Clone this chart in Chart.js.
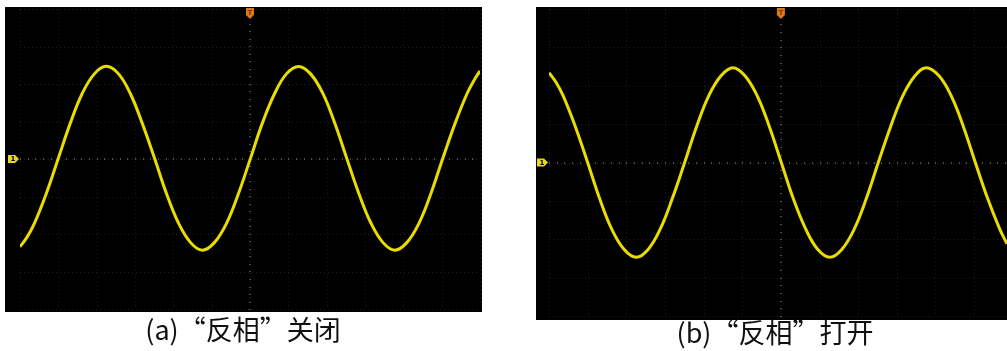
<!DOCTYPE html>
<html>
<head>
<meta charset="utf-8">
<script src="https://cdn.jsdelivr.net/npm/chart.js@4/dist/chart.umd.min.js"></script>
<style>
  html, body { margin: 0; padding: 0; background: #fff; width: 1007px; height: 351px; overflow: hidden; position: relative; }
  .panel { position: absolute; background: #000; }
  .panel canvas { display: block; }
  #pa { left: 5px; top: 7px; width: 477px; height: 305px; }
  #pb { left: 536px; top: 7px; width: 471px; height: 313px; }
  .cap { position: absolute; font-family: "Noto Sans CJK SC", "Noto Sans", sans-serif; font-size: 27px; line-height: 27px; color: #111; white-space: nowrap; transform: translateX(-50%); }
  #ca { left: 243px; top: 315px; }
  #cb { left: 775px; top: 318px; }
</style>
</head>
<body>
<div class="panel" id="pa"><canvas id="chartA" width="477" height="305"></canvas></div>
<div class="panel" id="pb"><canvas id="chartB" width="471" height="313"></canvas></div>
<div class="cap" id="ca">(a)“反相”关闭</div>
<div class="cap" id="cb">(b)“反相”打开</div>
<script>
// Time axis in divisions, voltage in divisions
const timeA = [-6.0, -5.82, -5.63, -5.32, -5.00, -4.69, -4.38, -4.06, -3.75, -3.43, -3.12, -2.81, -2.49, -2.18, -1.87, -1.55, -1.24, -0.93, -0.61, -0.30, 0.01, 0.32, 0.64, 0.95, 1.27, 1.58, 1.90, 2.21, 2.52, 2.84, 3.15, 3.47, 3.78, 4.09, 4.41, 4.72, 5.03, 5.35, 5.66, 5.84, 6.0];
const voltA = [-2.34, -2.09, -1.73, -0.94, 0.02, 0.95, 1.74, 2.27, 2.47, 2.27, 1.74, 0.95, 0.02, -0.92, -1.70, -2.23, -2.43, -2.23, -1.71, -0.92, 0.01, 0.95, 1.74, 2.27, 2.47, 2.27, 1.75, 0.96, 0.03, -0.92, -1.70, -2.23, -2.43, -2.23, -1.71, -0.92, 0.02, 0.95, 1.74, 2.09, 2.35];

const timeB = [-6.0, -5.82, -5.63, -5.32, -5.00, -4.69, -4.38, -4.06, -3.74, -3.43, -3.12, -2.81, -2.49, -2.18, -1.87, -1.55, -1.24, -0.93, -0.61, -0.30, 0.01, 0.32, 0.64, 0.95, 1.27, 1.58, 1.90, 2.21, 2.52, 2.84, 3.15, 3.47, 3.76, 4.09, 4.41, 4.72, 5.03, 5.35, 5.66, 5.85];
const voltB = [2.34, 2.09, 1.73, 0.94, 0.0, -0.94, -1.73, -2.26, -2.47, -2.26, -1.73, -0.94, 0.0, 0.94, 1.73, 2.26, 2.47, 2.26, 1.73, 0.94, 0.0, -0.94, -1.73, -2.26, -2.47, -2.26, -1.73, -0.94, 0.0, 0.94, 1.73, 2.26, 2.47, 2.26, 1.73, 0.94, 0.0, -0.94, -1.73, -2.12];

const xDivRangeA = [-6, 6];
const xDivRangeB = [-6, 5.85];
const yDivRange = [-4, 4];

const TRACE = '#e8dc00';

const scopePlugin = {
  id: 'scope',
  beforeDatasetsDraw(chart) {
    const ctx = chart.ctx, a = chart.chartArea;
    const xs = chart.scales.x, ys = chart.scales.y;
    ctx.save();
    ctx.strokeStyle = 'rgba(150,150,150,0.2)';
    ctx.lineWidth = 1;
    ctx.setLineDash([1, 3]);
    for (let v = Math.ceil(xs.min); v <= xs.max; v++) {
      const px = Math.round(xs.getPixelForValue(v)) + 0.5;
      ctx.beginPath(); ctx.moveTo(px, a.top); ctx.lineTo(px, a.bottom); ctx.stroke();
    }
    for (let v = ys.min; v <= ys.max; v++) {
      const py = Math.round(ys.getPixelForValue(v)) + 0.5;
      ctx.beginPath(); ctx.moveTo(a.left, py); ctx.lineTo(a.right, py); ctx.stroke();
    }
    ctx.setLineDash([]);
    ctx.fillStyle = 'rgba(170,170,150,0.45)';
    const cy = Math.round(ys.getPixelForValue(0));
    const cx = Math.round(xs.getPixelForValue(0));
    for (let v = Math.ceil(xs.min * 5) / 5; v <= xs.max; v += 0.2) {
      const px = Math.round(xs.getPixelForValue(v));
      ctx.fillRect(px, cy - 1, 1, 2);
    }
    for (let v = ys.min; v <= ys.max; v += 0.2) {
      const py = Math.round(ys.getPixelForValue(v));
      ctx.fillRect(cx - 1, py, 2, 1);
    }
    ctx.restore();
  },
  afterDraw(chart) {
    const ctx = chart.ctx, a = chart.chartArea;
    const xs = chart.scales.x, ys = chart.scales.y;
    ctx.save();
    const my = ys.getPixelForValue(0);
    const mx = a.left - 12;
    ctx.fillStyle = TRACE;
    ctx.beginPath();
    ctx.moveTo(mx, my - 4);
    ctx.lineTo(mx + 7, my - 4);
    ctx.lineTo(mx + 11, my);
    ctx.lineTo(mx + 7, my + 4);
    ctx.lineTo(mx, my + 4);
    ctx.closePath();
    ctx.fill();
    ctx.fillStyle = '#000';
    ctx.font = 'bold 7px "DejaVu Sans"';
    ctx.textAlign = 'center'; ctx.textBaseline = 'middle';
    ctx.fillText('1', mx + 5, my + 0.5);
    const tx = xs.getPixelForValue(0);
    ctx.fillStyle = '#e07818';
    ctx.beginPath();
    ctx.moveTo(tx - 4, 1);
    ctx.lineTo(tx + 4, 1);
    ctx.lineTo(tx + 4, 8);
    ctx.lineTo(tx, 12);
    ctx.lineTo(tx - 4, 8);
    ctx.closePath();
    ctx.fill();
    ctx.fillStyle = '#7a3a00';
    ctx.fillText('T', tx, 6);
    ctx.restore();
  }
};

function makeChart(id, times, volts, xr, pad) {
  const pts = times.map((t, i) => ({ x: t, y: volts[i] }));
  return new Chart(document.getElementById(id), {
    type: 'line',
    data: { datasets: [{
      data: pts,
      borderColor: TRACE,
      borderWidth: 3,
      pointRadius: 0,
      fill: false,
      tension: 0.4
    }] },
    options: {
      responsive: false,
      animation: false,
      events: [],
      layout: { padding: pad },
      plugins: { legend: { display: false }, tooltip: { enabled: false }, title: { display: false } },
      scales: {
        x: { type: 'linear', min: xr[0], max: xr[1], display: false },
        y: { type: 'linear', min: yDivRange[0], max: yDivRange[1], display: false }
      }
    },
    plugins: [scopePlugin]
  });
}

makeChart('chartA', timeA, voltA, xDivRangeA, { left: 15, right: 2, top: 2, bottom: 3 });
makeChart('chartB', timeB, voltB, xDivRangeB, { left: 13, right: 0, top: 2, bottom: 4 });
</script>
</body>
</html>
